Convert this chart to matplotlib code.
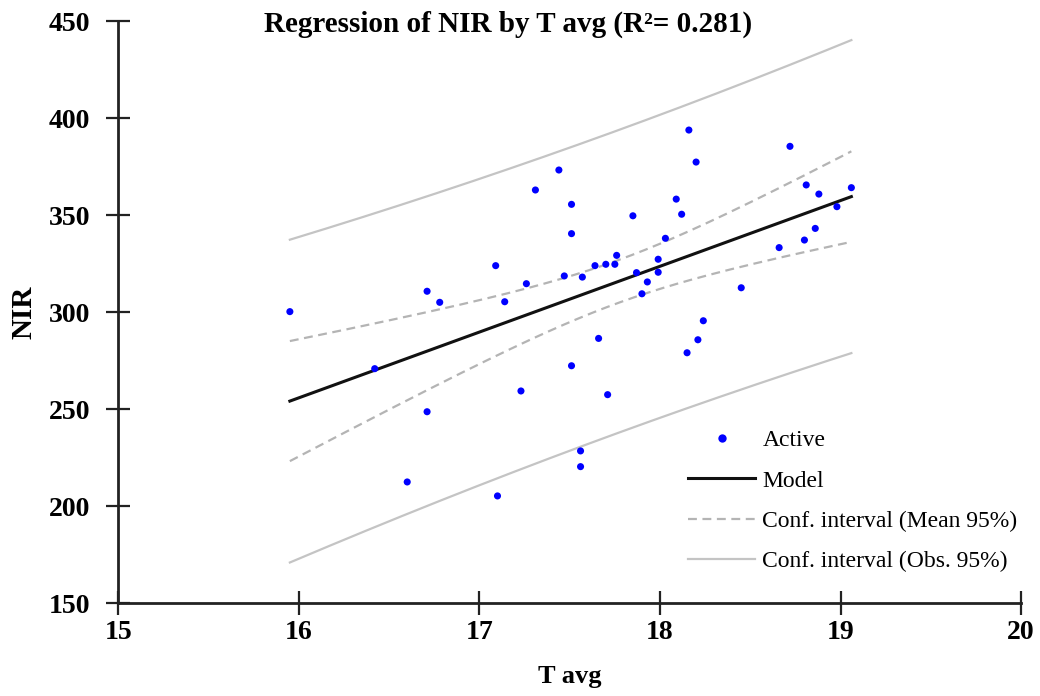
import numpy as np
import matplotlib.pyplot as plt
from matplotlib.lines import Line2D

plt.rcParams['font.family'] = ['Liberation Serif', 'DejaVu Serif']

# T avg / NIR observations
t_avg = [15.95, 16.42, 16.60, 16.71, 16.71, 16.78, 17.09, 17.10, 17.14, 17.23,
         17.26, 17.31, 17.44, 17.47, 17.51, 17.51, 17.51, 17.56, 17.56, 17.57,
         17.64, 17.66, 17.70, 17.71, 17.75, 17.76, 17.85, 17.87, 17.90, 17.93,
         17.99, 17.99, 18.03, 18.09, 18.12, 18.15, 18.16, 18.20, 18.21, 18.24,
         18.45, 18.66, 18.72, 18.80, 18.81, 18.86, 18.88, 18.98, 19.06]
nir = [300.2, 270.8, 212.4, 310.7, 248.6, 305.0, 323.9, 205.2, 305.3, 259.3,
       314.6, 362.9, 373.2, 318.6, 355.5, 340.4, 272.3, 228.4, 220.3, 318.0,
       323.9, 286.4, 324.6, 257.4, 324.6, 329.2, 349.6, 320.3, 309.4, 315.5,
       320.5, 327.2, 338.0, 358.2, 350.4, 279.0, 393.8, 377.3, 285.7, 295.5,
       312.5, 333.2, 385.4, 337.1, 365.5, 343.1, 360.8, 354.3, 364.1]

x_ticks = [15, 16, 17, 18, 19, 20]
y_ticks = [150, 200, 250, 300, 350, 400, 450]

# ordinary least squares fit with 95% bands
x = np.array(t_avg)
y = np.array(nir)
n = len(x)
slope, intercept = np.polyfit(x, y, 1)
resid = y - (intercept + slope * x)
s = np.sqrt(np.sum(resid ** 2) / (n - 2))
sxx = np.sum((x - x.mean()) ** 2)
t_crit = 2.012  # t(0.975, 47)

xs = np.linspace(x.min(), x.max(), 200)
yhat = intercept + slope * xs
se_mean = s * np.sqrt(1 / n + (xs - x.mean()) ** 2 / sxx)
se_obs = s * np.sqrt(1 + 1 / n + (xs - x.mean()) ** 2 / sxx)

fig = plt.figure(figsize=(10.4, 6.96), dpi=100)
ax = fig.add_axes([0.1138, 0.1336, 0.868, 0.8362])

obs_col = '#c4c4c4'
mean_col = '#b4b4b4'
ax.plot(xs, yhat + t_crit * se_obs, color=obs_col, lw=1.6)
ax.plot(xs, yhat - t_crit * se_obs, color=obs_col, lw=1.6)
ax.plot(xs, yhat + t_crit * se_mean, color=mean_col, lw=1.6, ls=(0, (4, 2.5)))
ax.plot(xs, yhat - t_crit * se_mean, color=mean_col, lw=1.6, ls=(0, (4, 2.5)))
ax.plot(xs, yhat, color='#111111', lw=2.2)
ax.scatter(x, y, s=26, color='#0000ff', edgecolors='none', zorder=5)

ax.set_xlim(15, 20)
ax.set_ylim(150, 450)
ax.set_xticks(x_ticks)
ax.set_yticks(y_ticks)
for side in ['top', 'right']:
    ax.spines[side].set_visible(False)
for side in ['left', 'bottom']:
    ax.spines[side].set_linewidth(2)
    ax.spines[side].set_color('#222222')
ax.tick_params(direction='inout', length=17, width=1.6, color='#222222',
               labelsize=20)
ax.tick_params(axis='x', pad=4)
ax.tick_params(axis='y', pad=12)
for lab in ax.get_xticklabels() + ax.get_yticklabels():
    lab.set_fontweight('bold')

ax.set_xlabel('T avg', fontsize=19, fontweight='bold', labelpad=14)
ax.set_ylabel('NIR', fontsize=21, fontweight='bold', labelpad=8)
fig.text(0.489, 0.965, 'Regression of NIR by T avg (R\u00b2= 0.281)',
         ha='center', va='center', fontsize=21, fontweight='bold')

handles = [
    Line2D([], [], ls='none', marker='o', ms=6, color='#0000ff', mec='none'),
    Line2D([], [], color='#111111', lw=2.2),
    Line2D([], [], color=mean_col, lw=1.6, ls=(0, (4, 2.5))),
    Line2D([], [], color=obs_col, lw=1.6),
]
labels = ['Active', 'Model', 'Conf. interval (Mean 95%)',
          'Conf. interval (Obs. 95%)']
ax.legend(handles, labels, loc='upper left', bbox_to_anchor=(0.618, 0.318),
          frameon=False, fontsize=17, handlelength=2.85, handletextpad=0.3,
          labelspacing=0.8, borderpad=0, numpoints=1)

fig.savefig('out.png', dpi=100)
